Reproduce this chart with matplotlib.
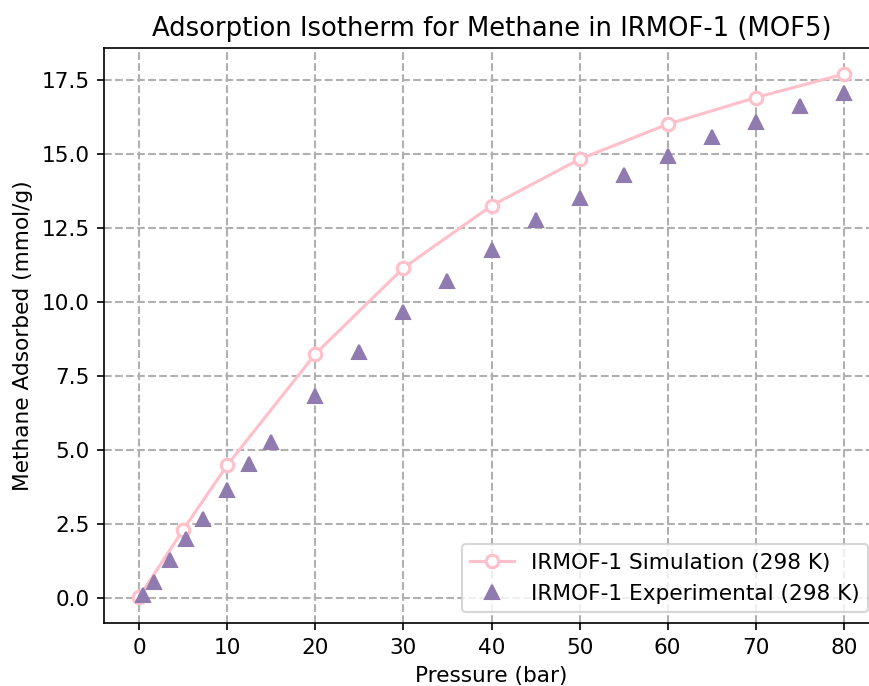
import numpy as np
import matplotlib
matplotlib.use("Agg")
import matplotlib.pyplot as plt

# simulated isotherm (GCMC), 298 K
sim_pressure = [0, 5, 10, 20, 30, 40, 50, 60, 70, 80]
sim_uptake = [0.05, 2.32, 4.5, 8.25, 11.15, 13.25, 14.82, 16.0, 16.9, 17.69]

# experimental isotherm, 298 K
exp_pressure = [0.4, 1.7, 3.5, 5.3, 7.2, 10, 12.5, 15, 20, 25, 30, 35, 40,
                45, 50, 55, 60, 65, 70, 75, 80]
exp_uptake = [0.1, 0.55, 1.28, 2.0, 2.67, 3.64, 4.52, 5.28, 6.82, 8.33, 9.66,
              10.7, 11.76, 12.76, 13.52, 14.27, 14.94, 15.56, 16.07, 16.62, 17.04]

plt.rcParams['font.size'] = 10.4


def show_data():
    fig = plt.figure(figsize=(869 / 150, 686 / 150), dpi=150)
    ax = fig.add_axes([104 / 869, 63 / 686, 775 / 869, 575 / 686])

    ax.plot(sim_pressure, sim_uptake, color="pink", linewidth=1.5,
            marker="o", markersize=6, markerfacecolor="white",
            markeredgecolor="pink", markeredgewidth=1.5,
            label="IRMOF-1 Simulation (298 K)")
    ax.plot(exp_pressure, exp_uptake, linestyle="none", marker="^",
            markersize=7, color="#8f7bb0",
            label="IRMOF-1 Experimental (298 K)")

    ax.set_title("Adsorption Isotherm for Methane in IRMOF-1 (MOF5)", fontsize=12.4)
    ax.set_xlabel("Pressure (bar)")
    ax.set_ylabel("Methane Adsorbed (mmol/g)")
    ax.grid(True, linestyle="--", color="#b0b0b0", linewidth=1)
    ax.set_axisbelow(True)
    ax.legend(loc="lower right")

    fig.savefig("out.png", dpi=150)


if __name__ == '__main__':
    show_data()
